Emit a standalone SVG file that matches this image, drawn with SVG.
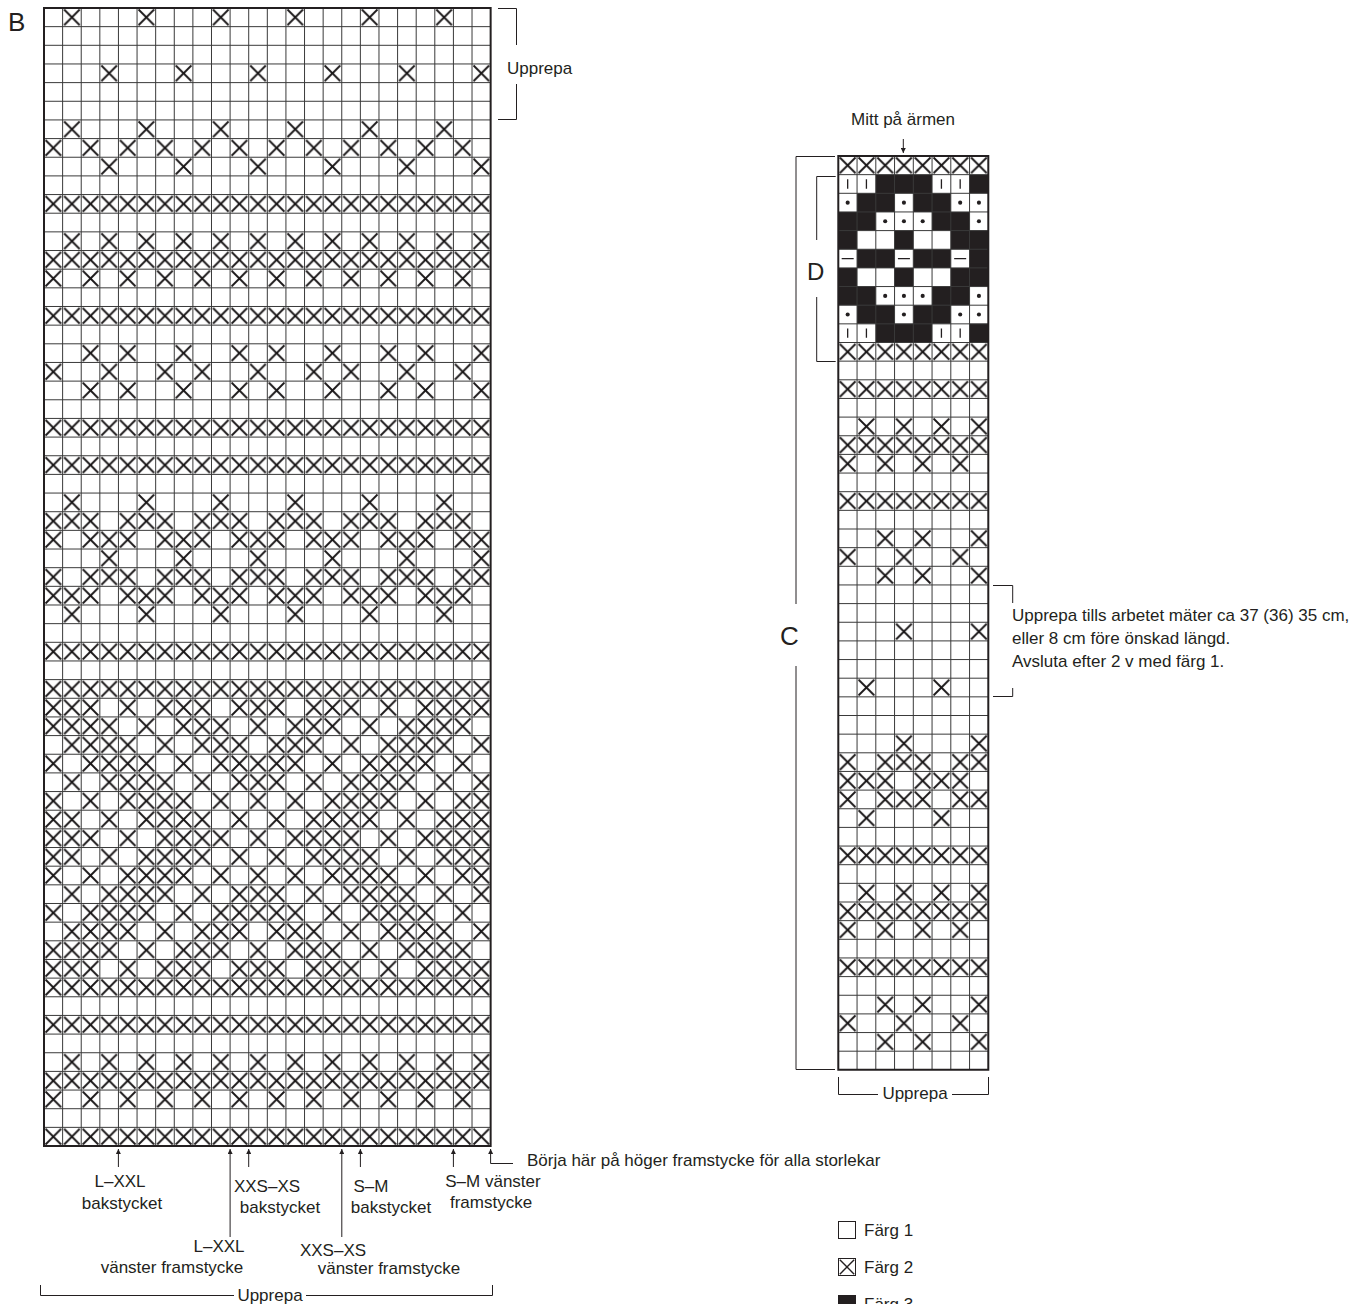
<svg xmlns="http://www.w3.org/2000/svg" width="1365" height="1304" viewBox="0 0 1365 1304">
<style>
text{font-family:'Liberation Sans',Arial,sans-serif;font-size:17px;fill:#231f20}
.big{font-size:26px}
.mid{text-anchor:middle}
.grid{fill:none;stroke:#3a3a3a;stroke-width:1}
.frame{fill:none;stroke:#231f20;stroke-width:2}
.ln{fill:none;stroke:#231f20;stroke-width:1}
.sym{fill:none;stroke:#231f20;stroke-width:1.3}
</style>
<defs>
<pattern id="xp" patternUnits="userSpaceOnUse" width="1" height="1">
<path d="M.08 .08L.92 .92M.92 .08L.08 .92" fill="none" stroke="#1a1718" stroke-width=".1"/>
</pattern>
<marker id="ah" viewBox="0 0 10 10" refX="10" refY="5" markerWidth="6" markerHeight="5" orient="auto" markerUnits="userSpaceOnUse">
<path d="M0 0L10 5L0 10z" fill="#231f20"/>
</marker>
</defs>
<rect width="1365" height="1304" fill="#fff"/>

<g id="chart-B" transform="translate(44 8) scale(18.61 18.656)">
<rect width="24" height="61" fill="#fff"/>
<path fill="url(#xp)" d="M1 0h1v1h-1zM5 0h1v1h-1zM9 0h1v1h-1zM13 0h1v1h-1zM17 0h1v1h-1zM21 0h1v1h-1z
M3 3h1v1h-1zM7 3h1v1h-1zM11 3h1v1h-1zM15 3h1v1h-1zM19 3h1v1h-1zM23 3h1v1h-1z
M1 6h1v1h-1zM5 6h1v1h-1zM9 6h1v1h-1zM13 6h1v1h-1zM17 6h1v1h-1zM21 6h1v1h-1z
M0 7h1v1h-1zM2 7h1v1h-1zM4 7h1v1h-1zM6 7h1v1h-1zM8 7h1v1h-1zM10 7h1v1h-1zM12 7h1v1h-1zM14 7h1v1h-1zM16 7h1v1h-1zM18 7h1v1h-1zM20 7h1v1h-1zM22 7h1v1h-1z
M3 8h1v1h-1zM7 8h1v1h-1zM11 8h1v1h-1zM15 8h1v1h-1zM19 8h1v1h-1zM23 8h1v1h-1z
M0 10h24v1h-24z
M1 12h1v1h-1zM3 12h1v1h-1zM5 12h1v1h-1zM7 12h1v1h-1zM9 12h1v1h-1zM11 12h1v1h-1zM13 12h1v1h-1zM15 12h1v1h-1zM17 12h1v1h-1zM19 12h1v1h-1zM21 12h1v1h-1zM23 12h1v1h-1z
M0 13h24v1h-24z
M0 14h1v1h-1zM2 14h1v1h-1zM4 14h1v1h-1zM6 14h1v1h-1zM8 14h1v1h-1zM10 14h1v1h-1zM12 14h1v1h-1zM14 14h1v1h-1zM16 14h1v1h-1zM18 14h1v1h-1zM20 14h1v1h-1zM22 14h1v1h-1z
M0 16h24v1h-24z
M2 18h1v1h-1zM4 18h1v1h-1zM7 18h1v1h-1zM10 18h1v1h-1zM12 18h1v1h-1zM15 18h1v1h-1zM18 18h1v1h-1zM20 18h1v1h-1zM23 18h1v1h-1z
M0 19h1v1h-1zM3 19h1v1h-1zM6 19h1v1h-1zM8 19h1v1h-1zM11 19h1v1h-1zM14 19h1v1h-1zM16 19h1v1h-1zM19 19h1v1h-1zM22 19h1v1h-1z
M2 20h1v1h-1zM4 20h1v1h-1zM7 20h1v1h-1zM10 20h1v1h-1zM12 20h1v1h-1zM15 20h1v1h-1zM18 20h1v1h-1zM20 20h1v1h-1zM23 20h1v1h-1z
M0 22h24v1h-24zM0 24h24v1h-24z
M1 26h1v1h-1zM5 26h1v1h-1zM9 26h1v1h-1zM13 26h1v1h-1zM17 26h1v1h-1zM21 26h1v1h-1z
M0 27h3v1h-3zM4 27h3v1h-3zM8 27h3v1h-3zM12 27h3v1h-3zM16 27h3v1h-3zM20 27h3v1h-3z
M0 28h1v1h-1zM2 28h3v1h-3zM6 28h3v1h-3zM10 28h3v1h-3zM14 28h3v1h-3zM18 28h3v1h-3zM22 28h2v1h-2z
M3 29h1v1h-1zM7 29h1v1h-1zM11 29h1v1h-1zM15 29h1v1h-1zM19 29h1v1h-1zM23 29h1v1h-1z
M0 30h1v1h-1zM2 30h3v1h-3zM6 30h3v1h-3zM10 30h3v1h-3zM14 30h3v1h-3zM18 30h3v1h-3zM22 30h2v1h-2z
M0 31h3v1h-3zM4 31h3v1h-3zM8 31h3v1h-3zM12 31h3v1h-3zM16 31h3v1h-3zM20 31h3v1h-3z
M1 32h1v1h-1zM5 32h1v1h-1zM9 32h1v1h-1zM13 32h1v1h-1zM17 32h1v1h-1zM21 32h1v1h-1z
M0 34h24v1h-24zM0 36h24v1h-24z
M0 37h3v1h-3zM4 37h1v1h-1zM6 37h3v1h-3zM10 37h3v1h-3zM14 37h3v1h-3zM18 37h1v1h-1zM20 37h4v1h-4z
M0 38h4v1h-4zM5 38h1v1h-1zM7 38h3v1h-3zM11 38h1v1h-1zM13 38h3v1h-3zM17 38h1v1h-1zM19 38h4v1h-4z
M1 39h4v1h-4zM6 39h1v1h-1zM8 39h3v1h-3zM12 39h3v1h-3zM16 39h1v1h-1zM18 39h4v1h-4zM23 39h1v1h-1z
M0 40h1v1h-1zM2 40h4v1h-4zM7 40h1v1h-1zM9 40h5v1h-5zM15 40h1v1h-1zM17 40h4v1h-4zM22 40h1v1h-1z
M1 41h1v1h-1zM3 41h4v1h-4zM8 41h1v1h-1zM10 41h3v1h-3zM14 41h1v1h-1zM16 41h4v1h-4zM21 41h1v1h-1zM23 41h1v1h-1z
M0 42h1v1h-1zM2 42h1v1h-1zM4 42h4v1h-4zM9 42h1v1h-1zM11 42h1v1h-1zM13 42h1v1h-1zM15 42h4v1h-4zM20 42h1v1h-1zM22 42h2v1h-2z
M0 43h2v1h-2zM3 43h1v1h-1zM5 43h4v1h-4zM10 43h1v1h-1zM12 43h1v1h-1zM14 43h4v1h-4zM19 43h1v1h-1zM21 43h3v1h-3z
M0 44h3v1h-3zM4 44h1v1h-1zM6 44h4v1h-4zM11 44h1v1h-1zM13 44h4v1h-4zM18 44h1v1h-1zM20 44h4v1h-4z
M0 45h2v1h-2zM3 45h1v1h-1zM5 45h4v1h-4zM10 45h1v1h-1zM12 45h1v1h-1zM14 45h4v1h-4zM19 45h1v1h-1zM21 45h3v1h-3z
M0 46h1v1h-1zM2 46h1v1h-1zM4 46h4v1h-4zM9 46h1v1h-1zM11 46h1v1h-1zM13 46h1v1h-1zM15 46h4v1h-4zM20 46h1v1h-1zM22 46h2v1h-2z
M1 47h1v1h-1zM3 47h4v1h-4zM8 47h1v1h-1zM10 47h3v1h-3zM14 47h1v1h-1zM16 47h4v1h-4zM21 47h1v1h-1zM23 47h1v1h-1z
M0 48h1v1h-1zM2 48h4v1h-4zM7 48h1v1h-1zM9 48h5v1h-5zM15 48h1v1h-1zM17 48h4v1h-4zM22 48h1v1h-1z
M1 49h4v1h-4zM6 49h1v1h-1zM8 49h3v1h-3zM12 49h3v1h-3zM16 49h1v1h-1zM18 49h4v1h-4zM23 49h1v1h-1z
M0 50h4v1h-4zM5 50h1v1h-1zM7 50h3v1h-3zM11 50h1v1h-1zM13 50h3v1h-3zM17 50h1v1h-1zM19 50h4v1h-4z
M0 51h3v1h-3zM4 51h1v1h-1zM6 51h3v1h-3zM10 51h3v1h-3zM14 51h3v1h-3zM18 51h1v1h-1zM20 51h4v1h-4z
M0 52h24v1h-24zM0 54h24v1h-24z
M1 56h1v1h-1zM3 56h1v1h-1zM5 56h1v1h-1zM7 56h1v1h-1zM9 56h1v1h-1zM11 56h1v1h-1zM13 56h1v1h-1zM15 56h1v1h-1zM17 56h1v1h-1zM19 56h1v1h-1zM21 56h1v1h-1zM23 56h1v1h-1z
M0 57h24v1h-24z
M0 58h1v1h-1zM2 58h1v1h-1zM4 58h1v1h-1zM6 58h1v1h-1zM8 58h1v1h-1zM10 58h1v1h-1zM12 58h1v1h-1zM14 58h1v1h-1zM16 58h1v1h-1zM18 58h1v1h-1zM20 58h1v1h-1zM22 58h1v1h-1z
M0 60h24v1h-24z"/>
<path class="grid" vector-effect="non-scaling-stroke" d="M1 0V61M2 0V61M3 0V61M4 0V61M5 0V61M6 0V61M7 0V61M8 0V61M9 0V61M10 0V61M11 0V61M12 0V61M13 0V61M14 0V61M15 0V61M16 0V61M17 0V61M18 0V61M19 0V61M20 0V61M21 0V61M22 0V61M23 0V61
M0 1H24M0 2H24M0 3H24M0 4H24M0 5H24M0 6H24M0 7H24M0 8H24M0 9H24M0 10H24M0 11H24M0 12H24M0 13H24M0 14H24M0 15H24M0 16H24M0 17H24M0 18H24M0 19H24M0 20H24
M0 21H24M0 22H24M0 23H24M0 24H24M0 25H24M0 26H24M0 27H24M0 28H24M0 29H24M0 30H24M0 31H24M0 32H24M0 33H24M0 34H24M0 35H24M0 36H24M0 37H24M0 38H24M0 39H24M0 40H24
M0 41H24M0 42H24M0 43H24M0 44H24M0 45H24M0 46H24M0 47H24M0 48H24M0 49H24M0 50H24M0 51H24M0 52H24M0 53H24M0 54H24M0 55H24M0 56H24M0 57H24M0 58H24M0 59H24M0 60H24"/>
<rect class="frame" vector-effect="non-scaling-stroke" width="24" height="61"/>
</g>

<g id="chart-C" transform="translate(838.3 156) scale(18.75 18.65)">
<rect width="8" height="49" fill="#fff"/>
<path fill="#231f20" d="M2 1h3v1h-3zM7 1h1v1h-1zM1 2h2v1h-2zM4 2h2v1h-2zM0 3h2v1h-2zM5 3h2v1h-2zM0 4h1v1h-1zM3 4h1v1h-1zM6 4h2v1h-2zM1 5h2v1h-2zM4 5h2v1h-2zM7 5h1v1h-1zM0 6h1v1h-1zM3 6h1v1h-1zM6 6h2v1h-2zM0 7h2v1h-2zM5 7h2v1h-2zM1 8h2v1h-2zM4 8h2v1h-2zM2 9h3v1h-3zM7 9h1v1h-1z"/>
<path fill="url(#xp)" d="M0 0h8v1h-8zM0 10h8v1h-8zM0 12h8v1h-8z
M1 14h1v1h-1zM3 14h1v1h-1zM5 14h1v1h-1zM7 14h1v1h-1zM0 15h8v1h-8z
M0 16h1v1h-1zM2 16h1v1h-1zM4 16h1v1h-1zM6 16h1v1h-1zM0 18h8v1h-8z
M2 20h1v1h-1zM4 20h1v1h-1zM7 20h1v1h-1zM0 21h1v1h-1zM3 21h1v1h-1zM6 21h1v1h-1zM2 22h1v1h-1zM4 22h1v1h-1zM7 22h1v1h-1z
M3 25h1v1h-1zM7 25h1v1h-1zM1 28h1v1h-1zM5 28h1v1h-1zM3 31h1v1h-1zM7 31h1v1h-1z
M0 32h1v1h-1zM2 32h3v1h-3zM6 32h2v1h-2z
M0 33h3v1h-3zM4 33h3v1h-3z
M0 34h1v1h-1zM2 34h3v1h-3zM6 34h2v1h-2z
M1 35h1v1h-1zM5 35h1v1h-1z
M0 37h8v1h-8zM1 39h1v1h-1zM3 39h1v1h-1zM5 39h1v1h-1zM7 39h1v1h-1zM0 40h8v1h-8z
M0 41h1v1h-1zM2 41h1v1h-1zM4 41h1v1h-1zM6 41h1v1h-1zM0 43h8v1h-8z
M2 45h1v1h-1zM4 45h1v1h-1zM7 45h1v1h-1zM0 46h1v1h-1zM3 46h1v1h-1zM6 46h1v1h-1zM2 47h1v1h-1zM4 47h1v1h-1zM7 47h1v1h-1z"/>
<path class="sym" vector-effect="non-scaling-stroke" d="M.5 1.25V1.75M1.5 1.25V1.75M5.5 1.25V1.75M6.5 1.25V1.75M.5 9.25V9.75M1.5 9.25V9.75M5.5 9.25V9.75M6.5 9.25V9.75M.18 5.5H.82M3.18 5.5H3.82M6.18 5.5H6.82"/>
<g fill="#231f20">
<circle cx=".5" cy="2.5" r=".11"/><circle cx="3.5" cy="2.5" r=".11"/><circle cx="6.5" cy="2.5" r=".11"/><circle cx="7.5" cy="2.5" r=".11"/>
<circle cx="2.5" cy="3.5" r=".11"/><circle cx="3.5" cy="3.5" r=".11"/><circle cx="4.5" cy="3.5" r=".11"/><circle cx="7.5" cy="3.5" r=".11"/>
<circle cx="2.5" cy="7.5" r=".11"/><circle cx="3.5" cy="7.5" r=".11"/><circle cx="4.5" cy="7.5" r=".11"/><circle cx="7.5" cy="7.5" r=".11"/>
<circle cx=".5" cy="8.5" r=".11"/><circle cx="3.5" cy="8.5" r=".11"/><circle cx="6.5" cy="8.5" r=".11"/><circle cx="7.5" cy="8.5" r=".11"/>
</g>
<path class="grid" vector-effect="non-scaling-stroke" d="M1 0V49M2 0V49M3 0V49M4 0V49M5 0V49M6 0V49M7 0V49
M0 1H8M0 2H8M0 3H8M0 4H8M0 5H8M0 6H8M0 7H8M0 8H8M0 9H8M0 10H8M0 11H8M0 12H8M0 13H8M0 14H8M0 15H8M0 16H8M0 17H8M0 18H8M0 19H8M0 20H8M0 21H8M0 22H8M0 23H8M0 24H8
M0 25H8M0 26H8M0 27H8M0 28H8M0 29H8M0 30H8M0 31H8M0 32H8M0 33H8M0 34H8M0 35H8M0 36H8M0 37H8M0 38H8M0 39H8M0 40H8M0 41H8M0 42H8M0 43H8M0 44H8M0 45H8M0 46H8M0 47H8M0 48H8"/>
<rect class="frame" vector-effect="non-scaling-stroke" width="8" height="49"/>
</g>

<g id="connectors">
<path class="ln" d="M498 8.5H516.5V45M516.5 84V119.5H498"/>
<path class="ln" d="M835 156.5H796V604M796 666V1069.5H835"/>
<path class="ln" d="M835.7 176.5H816.7V240M816.7 297V361.5H835.7"/>
<path class="ln" d="M993 585.5H1012.7V603M1012.7 688V696.5H993"/>
<path class="ln" d="M838.5 1077V1094.5H878M952 1094.5H988.5V1077"/>
<path class="ln" d="M40.5 1285V1295.5H234M306 1295.5H492.5V1285"/>
<path class="ln" d="M903.3 139V153" marker-end="url(#ah)"/>
<path class="ln" d="M118.4 1167V1149" marker-end="url(#ah)"/>
<path class="ln" d="M248.7 1167V1149" marker-end="url(#ah)"/>
<path class="ln" d="M360.4 1167V1149" marker-end="url(#ah)"/>
<path class="ln" d="M453.4 1167V1149" marker-end="url(#ah)"/>
<path class="ln" d="M230.1 1237V1149" marker-end="url(#ah)"/>
<path class="ln" d="M341.8 1237V1149" marker-end="url(#ah)"/>
<path class="ln" d="M513 1163.5H490.6V1149" marker-end="url(#ah)"/>
</g>

<g id="labels">
<text class="big" x="8" y="31">B</text>
<text class="big" x="780" y="645">C</text>
<text x="807" y="280" style="font-size:24px">D</text>
<text x="507" y="74">Upprepa</text>
<text class="mid" x="903" y="125">Mitt på ärmen</text>
<text x="1012" y="621">Upprepa tills arbetet mäter ca 37 (36) 35 cm,</text>
<text x="1012" y="644">eller 8 cm före önskad längd.</text>
<text x="1012" y="667">Avsluta efter 2 v med färg 1.</text>
<text class="mid" x="915" y="1099">Upprepa</text>
<text class="mid" x="270" y="1301">Upprepa</text>
<text x="527" y="1166">Börja här på höger framstycke för alla storlekar</text>
<text class="mid" x="120" y="1187">L–XXL</text>
<text class="mid" x="122" y="1209">bakstycket</text>
<text class="mid" x="267" y="1192">XXS–XS</text>
<text class="mid" x="280" y="1213">bakstycket</text>
<text class="mid" x="371" y="1192">S–M</text>
<text class="mid" x="391" y="1213">bakstycket</text>
<text class="mid" x="493" y="1187">S–M vänster</text>
<text class="mid" x="491" y="1208">framstycke</text>
<text class="mid" x="219" y="1252">L–XXL</text>
<text class="mid" x="172" y="1273">vänster framstycke</text>
<text class="mid" x="333" y="1256">XXS–XS</text>
<text class="mid" x="389" y="1274">vänster framstycke</text>
</g>

<g id="legend-1"><rect x="838.5" y="1221.5" width="17" height="17" fill="#fff" stroke="#231f20"/><text x="864" y="1236">Färg 1</text></g>
<g id="legend-2"><rect x="838.5" y="1258.5" width="17" height="17" fill="#fff" stroke="#231f20"/><path d="M839.8 1259.8L854.2 1274.2M854.2 1259.8L839.8 1274.2" stroke="#231f20" stroke-width="1.4"/><text x="864" y="1273">Färg 2</text></g>
<g id="legend-3"><rect x="838.5" y="1295.5" width="17" height="17" fill="#231f20" stroke="#231f20"/><text x="864" y="1310">Färg 3</text></g>
</svg>
